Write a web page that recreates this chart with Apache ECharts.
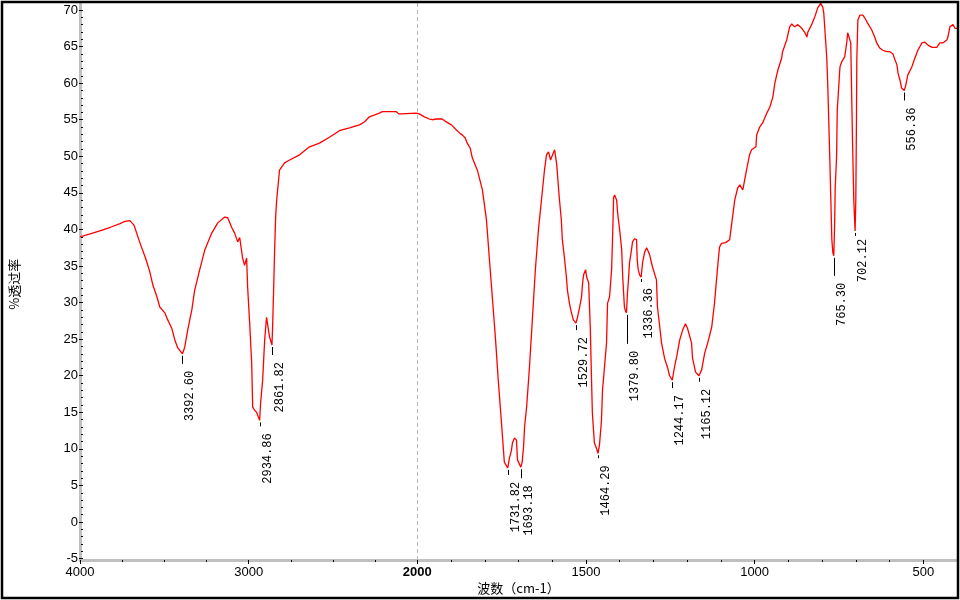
<!DOCTYPE html>
<html><head><meta charset="utf-8">
<script src="https://cdn.jsdelivr.net/npm/echarts@6/dist/echarts.min.js"></script>
<style>html,body{margin:0;padding:0;background:#fff}#c{width:960px;height:600px}</style>
</head><body><div id="c"></div>
<script>
// ---- data (wavenumber cm-1, % transmittance) ----
const wavenumbers = [
4000,3940,3882,3820,3763,3734,3704,3680,3645,3610,3586,3568,3544,3527,3497,3479,3456,3438,3420,3392.6,
3379,3361,3337,3320,3290,3260,3219,3183,3142,3124,3101,3083,3065,3053,3036,3024,3012,3006,2994,2982,
2976,2965,2953,2934.86,2929,2917,2905,2894,2888,2876,2861.82,2858,2852,2846,2840,2834,2817,2787,2757,2698,
2639,2580,2521,2462,2402,2343,2314,2284,2225,2207,2124,2110,2095,2085,2006,2000,1994,1979,1964,1955,
1944,1926,1914,1899,1884,1875,1866,1858,1852,1843,1837,1822,1807,1795,1786,1777,1768,1760,1751,1748,
1742,1731.82,1727,1721,1718,1712,1706,1703,1693.18,1689,1685,1682,1676,1668,1659,1650,1641,1632,1623,1617,
1611,1605,1599,1593,1587,1579,1573,1570,1564,1558,1555,1549,1543,1537,1529.72,1525,1519,1513,1510,1507,
1501,1498,1495,1492,1487,1484,1481,1475,1469,1464.29,1460,1454,1451,1445,1439,1436,1430,1424,1421,1418,
1415,1409,1406,1400,1394,1391,1386,1383,1379.8,1377,1374,1371,1365,1362,1356,1350,1348,1345,1341,1336.36,
1332,1326,1320,1317,1311,1303,1291,1288,1282,1276,1267,1258,1252,1244.17,1237,1231,1222,1213,1205,1199,
1187,1184,1175,1165.12,1157,1148,1139,1127,1119,1113,1107,1104,1098,1086,1074,1059,1050,1044,1035,1024,
1015,1009,996,994,985,976,964,955,946,940,931,920,917,905,896,890,881,872,860,851,
845,842,831,822,813,804,798,795,786,783,777,774,771,768,765.3,763,761,757,755,750,
747,742,733,727,724,721,715,712,709,706,702.12,700,698,697,694,688,679,673,665,653,
644,638,629,620,608,599,590,584,578,575,569,564,556.36,552,546,534,525,516,504,495,
486,474,460,451,442,430,427,421,412,406,400];
const transmittance = [
39.0,39.4,39.8,40.3,40.8,41.1,41.2,40.6,38.2,36.0,34.2,32.4,30.8,29.4,28.6,27.6,26.5,24.9,23.8,23.0,
23.9,26.3,29.0,31.7,34.5,37.2,39.5,40.9,41.7,41.6,40.3,39.5,38.3,38.9,36.1,35.1,36.1,32.1,27.2,21.7,
15.7,15.3,15.0,13.9,16.3,19.4,24.9,28.0,28.0,25.3,24.2,26.7,31.7,37.2,41.7,44.0,48.1,49.1,49.5,50.2,
51.3,51.8,52.6,53.5,53.9,54.3,54.7,55.4,55.9,56.1,56.1,55.8,55.8,56.0,55.9,55.9,55.8,55.4,55.1,55.0,
55.1,55.1,54.7,54.3,53.6,53.2,52.9,52.5,51.8,51.1,49.8,48.1,45.4,41.3,35.8,30.4,24.9,19.4,13.9,12.0,
8.2,7.4,8.7,9.8,10.8,11.5,11.2,8.5,7.5,8.2,10.3,13.0,15.7,20.8,27.6,34.5,39.9,44.0,48.1,50.2,
50.6,49.5,50.2,50.9,49.0,44.3,41.3,38.6,36.2,33.5,31.7,29.9,28.6,27.6,27.2,28.0,29.3,30.8,32.7,33.8,
34.5,33.5,33.4,32.7,26.3,20.4,14.9,10.8,10.1,9.4,10.5,13.9,18.0,21.2,24.5,29.9,30.8,34.5,39.0,44.4,
44.7,44.0,42.2,39.9,37.2,33.5,29.4,28.9,28.6,31.3,33.1,35.4,37.2,38.3,38.7,38.6,35.8,34.5,33.8,33.5,
35.5,36.9,37.5,37.2,36.5,34.9,33.1,29.4,27.0,24.5,22.4,21.1,20.0,19.4,21.3,22.6,24.9,26.3,27.1,26.5,
24.5,22.4,20.5,20.0,20.8,23.1,24.5,26.7,29.9,33.1,36.2,37.6,38.1,38.2,38.6,44.0,45.7,46.1,45.4,48.1,
50.2,50.9,51.3,52.9,54.0,54.6,55.9,56.7,58.1,60.0,61.8,63.4,64.3,65.9,67.7,68.1,67.7,68.0,67.5,66.9,
66.3,67.0,68.0,69.0,70.3,70.9,70.4,69.6,63.4,59.5,49.5,44.0,38.6,36.8,36.4,40.3,45.8,49.9,56.3,60.0,
62.2,62.9,63.6,65.5,66.9,67.0,65.5,57.7,50.5,44.0,39.8,44.0,55.4,63.2,68.6,69.3,69.3,68.9,68.2,67.3,
66.3,65.5,64.8,64.5,64.3,64.3,64.0,63.2,62.5,61.4,60.4,59.3,59.0,59.7,61.1,62.2,63.4,64.5,65.5,65.6,
65.2,64.9,64.9,65.5,65.5,65.9,66.3,67.7,68.0,67.5,67.5];
const peakWavenumbers = [3392.60,2934.86,2861.82,1731.82,1693.18,1529.72,1464.29,1379.80,1336.36,1244.17,1165.12,765.30,702.12,556.36];
const peakTransmittance = [23.0,13.9,24.2,7.4,7.5,27.2,9.4,28.6,33.5,19.4,20.0,36.4,39.8,59.0];
const xTickValuesLeft = [4000,3000];
const xTickValuesRight = [2000,1500,1000,500];

// ---- layout / style (not data) ----
const peakLabelDrop = [17,13,17,14,18,14,12,38,11,15,13,27,8,17]; // px from peak to label start
const GRID_LEFT = 80, GRID_TOP = 3, GRID_W = 877, GRID_H = 557;
const U_MAX = 2600;            // axis break at 2000 cm-1: 4000-2000 drawn at half scale
const Y_MIN = -5.19, Y_MAX = 70.96;
const sx = GRID_W / U_MAX;
const py = GRID_H / (Y_MAX - Y_MIN);
function toU(w){ return w >= 2000 ? (4000 - w) / 2 : 1000 + (2000 - w); }

const lineData = wavenumbers.map((w, i) => [toU(w), transmittance[i]]);
const peakData = peakWavenumbers.map((w, i) => [toU(w), peakTransmittance[i], w, peakLabelDrop[i]]);

const labelFont = 'Liberation Sans';
const tickCommon = {show: true, length: 4, lineStyle: {color: '#000', width: 1}};
const minorCommon = {show: true, length: 2, lineStyle: {color: '#000', width: 1}};

const chart = echarts.init(document.getElementById('c'), null, {renderer: 'canvas'});
chart.setOption({
  animation: false,
  backgroundColor: '#fff',
  grid: [
    {left: GRID_LEFT, top: GRID_TOP, width: GRID_W, height: GRID_H},
    {left: GRID_LEFT, top: GRID_TOP + (Y_MAX - 70) * py, width: GRID_W, height: 75 * py},
    {left: GRID_LEFT, top: GRID_TOP, width: 1000 * sx, height: GRID_H},
    {left: GRID_LEFT + 1000 * sx, top: GRID_TOP, width: 1500 * sx, height: GRID_H}
  ],
  xAxis: [
    {gridIndex: 0, type: 'value', min: 0, max: U_MAX, z: 1,
     axisLine: {show: true, onZero: false, lineStyle: {color: '#c0c0c0', width: 3}},
     axisTick: {show: false}, axisLabel: {show: false}, splitLine: {show: false},
     name: '波数（cm-1）', nameLocation: 'middle', nameGap: 22,
     nameTextStyle: {fontFamily: 'Noto Sans CJK SC', fontSize: 13, color: '#000'}},
    {gridIndex: 2, type: 'value', min: 2000, max: 4000, interval: 1000, inverse: true, z: 3,
     axisLine: {show: false, onZero: false}, axisTick: tickCommon,
     minorTick: Object.assign({splitNumber: 4}, minorCommon),
     splitLine: {show: false},
     axisLabel: {showMinLabel: false, margin: 6, fontFamily: labelFont, fontSize: 13, color: '#000',
       formatter: v => xTickValuesLeft.includes(v) ? String(v) : ''}},
    {gridIndex: 3, type: 'value', min: 500, max: 2000, interval: 500, inverse: true, z: 3,
     axisLine: {show: false, onZero: false}, axisTick: tickCommon,
     minorTick: Object.assign({splitNumber: 5}, minorCommon),
     splitLine: {show: false},
     axisLabel: {margin: 6, fontFamily: labelFont, fontSize: 13, color: '#000',
       formatter: v => !xTickValuesRight.includes(v) ? '' : (v === 2000 ? '{b|' + v + '}' : String(v)),
       rich: {b: {fontFamily: labelFont, fontSize: 13, fontWeight: 'bold', color: '#000'}}}},
    {gridIndex: 1, type: 'value', show: false}
  ],
  yAxis: [
    {gridIndex: 0, type: 'value', min: Y_MIN, max: Y_MAX, z: 1,
     axisLine: {show: true, onZero: false, lineStyle: {color: '#c0c0c0', width: 3}},
     axisTick: {show: false}, axisLabel: {show: false}, splitLine: {show: false}},
    {gridIndex: 1, type: 'value', min: -5, max: 70, interval: 5, z: 3,
     axisLine: {show: false, onZero: false}, axisTick: tickCommon,
     minorTick: Object.assign({splitNumber: 5}, minorCommon),
     splitLine: {show: false},
     axisLabel: {margin: 5, fontFamily: labelFont, fontSize: 13, color: '#000'},
     name: '%透过率', nameLocation: 'middle', nameGap: 62, nameRotate: 90,
     nameTextStyle: {fontFamily: 'Noto Sans CJK SC', fontSize: 13, color: '#000'}},
    {gridIndex: 2, type: 'value', show: false},
    {gridIndex: 3, type: 'value', show: false}
  ],
  graphic: [{type: 'rect', shape: {x: 2, y: 2, width: 956, height: 596},
    style: {fill: 'none', stroke: '#000', lineWidth: 2.5}, z: 100, silent: true}],
  series: [
    {type: 'line', xAxisIndex: 0, yAxisIndex: 0, data: lineData, showSymbol: false,
     lineStyle: {color: '#ff0000', width: 1.3}, z: 5, silent: true,
     markLine: {silent: true, symbol: ['none', 'none'], label: {show: false},
       lineStyle: {color: '#b8b8b8', type: [4, 3], width: 1},
       data: [{xAxis: toU(2000)}]}},
    {type: 'custom', xAxisIndex: 0, yAxisIndex: 0, data: peakData, z: 6, silent: true, clip: false,
     renderItem: function (params, api) {
       const p = api.coord([api.value(0), api.value(1)]);
       const x = Math.round(p[0]) + 0.5;
       const drop = api.value(3);
       const textY = p[1] + drop;
       const text = Number(api.value(2)).toFixed(2);
       return {type: 'group', children: [
         {type: 'line', shape: {x1: x, y1: p[1] + 2, x2: x, y2: Math.max(p[1] + 5, textY - 7)},
          style: {stroke: '#000', lineWidth: 1}},
         {type: 'text', x: x + 1.5, y: textY, rotation: Math.PI / 2,
          style: {text: text, fill: '#000', font: '12px "Liberation Mono"', align: 'right', verticalAlign: 'top'}}
       ]};
     }}
  ]
});
</script></body></html>
